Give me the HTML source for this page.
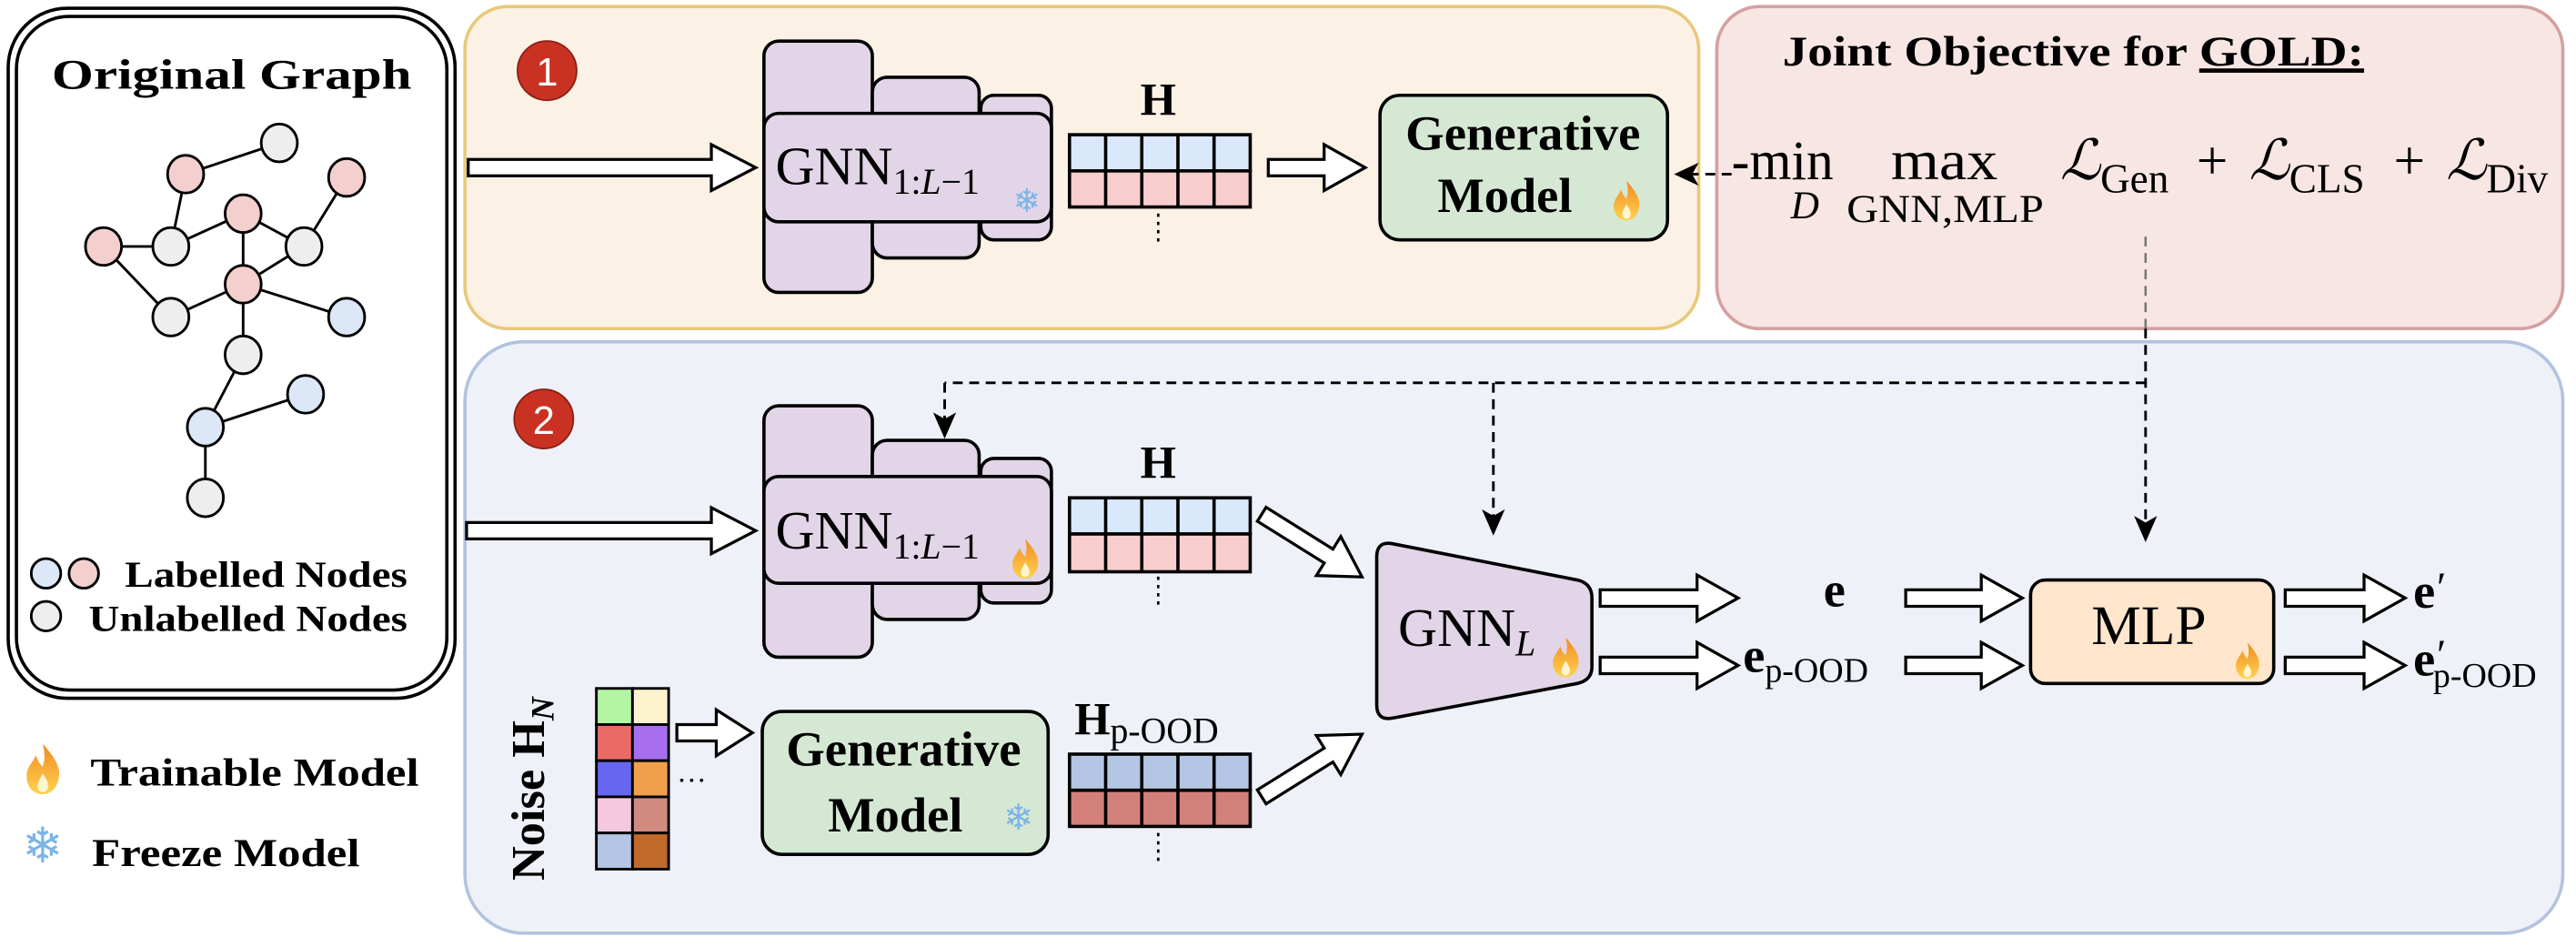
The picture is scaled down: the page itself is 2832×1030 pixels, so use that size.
<!DOCTYPE html>
<html><head><meta charset="utf-8"><style>
html,body{margin:0;padding:0;background:#fff;}
svg{display:block;}
text{font-family:"Liberation Serif","Times New Roman",serif;fill:#000;}
</style></head><body>
<svg width="2832" height="1030" viewBox="0 0 1568 570.3" preserveAspectRatio="none" xmlns="http://www.w3.org/2000/svg" font-family="Liberation Serif, serif">
<defs>
<linearGradient id="fl" x1="0" y1="1" x2="0" y2="0"><stop offset="0" stop-color="#ffd24d"/><stop offset="1" stop-color="#f08a24"/></linearGradient>
<g id="flame"><path d="M0,-11 C5,-5 8,-1 7,4 C6,9 3,11 0,11 C-4,11 -7,8 -7,3 C-7,-1 -4,-3 -3,-6 C-2,-3 -1,-2 0,-1 C1,-4 1,-7 0,-11Z" fill="url(#fl)"/><path d="M0,2 C2,5 3,7 2,9 C1,10.5 -1,10.5 -2,9 C-3,7 -1,4 0,2Z" fill="#fff6d0"/></g>
</defs>
<rect x="5" y="5" width="272" height="420" rx="36" fill="#fff" stroke="#000" stroke-width="2"/>
<rect x="10" y="10" width="262" height="410" rx="32" fill="#fff" stroke="#000" stroke-width="2"/>
<text x="141" y="54" font-size="26" font-weight="bold" text-anchor="middle" textLength="219" lengthAdjust="spacingAndGlyphs">Original Graph</text>
<g stroke="#000" stroke-width="1.6">
<line x1="113" y1="106" x2="170" y2="87"/><line x1="113" y1="106" x2="104" y2="150"/>
<line x1="104" y1="150" x2="63" y2="150"/><line x1="104" y1="150" x2="148" y2="130"/>
<line x1="148" y1="130" x2="185" y2="150"/><line x1="148" y1="130" x2="148" y2="173"/>
<line x1="185" y1="150" x2="211" y2="108"/><line x1="185" y1="150" x2="148" y2="173"/>
<line x1="63" y1="150" x2="104" y2="193"/><line x1="104" y1="193" x2="148" y2="173"/>
<line x1="148" y1="173" x2="211" y2="193"/><line x1="148" y1="173" x2="148" y2="216"/>
<line x1="148" y1="216" x2="125" y2="260"/><line x1="125" y1="260" x2="186" y2="240"/>
<line x1="125" y1="260" x2="125" y2="303"/>
</g>
<g stroke="#000" stroke-width="1.6">
<ellipse cx="170" cy="87" rx="11" ry="11.5" fill="#eeeeee"/>
<ellipse cx="113" cy="106" rx="11" ry="11.5" fill="#f3cfcd"/>
<ellipse cx="211" cy="108" rx="11" ry="11.5" fill="#f3cfcd"/>
<ellipse cx="148" cy="130" rx="11" ry="11.5" fill="#f3cfcd"/>
<ellipse cx="104" cy="150" rx="11" ry="11.5" fill="#eeeeee"/>
<ellipse cx="185" cy="150" rx="11" ry="11.5" fill="#eeeeee"/>
<ellipse cx="63" cy="150" rx="11" ry="11.5" fill="#f3cfcd"/>
<ellipse cx="148" cy="173" rx="11" ry="11.5" fill="#f3cfcd"/>
<ellipse cx="104" cy="193" rx="11" ry="11.5" fill="#eeeeee"/>
<ellipse cx="211" cy="193" rx="11" ry="11.5" fill="#dce8f8"/>
<ellipse cx="148" cy="216" rx="11" ry="11.5" fill="#eeeeee"/>
<ellipse cx="186" cy="240" rx="11" ry="11.5" fill="#dce8f8"/>
<ellipse cx="125" cy="260" rx="11" ry="11.5" fill="#dce8f8"/>
<ellipse cx="125" cy="303" rx="11" ry="11.5" fill="#eeeeee"/>
<ellipse cx="28" cy="349" rx="9" ry="9" fill="#dce8f8"/>
<ellipse cx="51" cy="349" rx="9" ry="9" fill="#f3cfcd"/>
<ellipse cx="28" cy="375" rx="9" ry="9" fill="#eeeeee"/>
</g>
<text x="76" y="357" font-size="22" font-weight="bold" textLength="172" lengthAdjust="spacingAndGlyphs">Labelled Nodes</text>
<text x="54" y="384" font-size="22" font-weight="bold" textLength="194" lengthAdjust="spacingAndGlyphs">Unlabelled Nodes</text>
<use href="#flame" transform="translate(26,468) scale(1.4)"/>
<text x="55" y="478" font-size="24" font-weight="bold" textLength="200" lengthAdjust="spacingAndGlyphs">Trainable Model</text>
<text x="26" y="525" font-size="30" text-anchor="middle" style="fill:#7ab4e8">❄</text>
<text x="56" y="527" font-size="24" font-weight="bold" textLength="163" lengthAdjust="spacingAndGlyphs">Freeze Model</text>

<rect x="283" y="4" width="751" height="196" rx="26" fill="#fcf1e5" stroke="#e8c97a" stroke-width="2"/>
<rect x="1045" y="4" width="515" height="196" rx="26" fill="#f7e6e4" stroke="#d4a0a0" stroke-width="2"/>
<rect x="283" y="208" width="1277" height="360" rx="36" fill="#eef1f8" stroke="#b3c3de" stroke-width="2"/>

<circle cx="333" cy="43" r="18" fill="#c93222" stroke="#8a1f14" stroke-width="1"/>
<text x="333" y="52" font-size="24" text-anchor="middle" style="fill:#fff;font-family:'Liberation Sans',sans-serif">1</text>
<circle cx="331" cy="255" r="18" fill="#c93222" stroke="#8a1f14" stroke-width="1"/>
<text x="331" y="264" font-size="24" text-anchor="middle" style="fill:#fff;font-family:'Liberation Sans',sans-serif">2</text>

<g stroke="#000" stroke-width="2" fill="#e1d5e7">
<rect x="465" y="25" width="66" height="153" rx="9"/>
<rect x="531" y="47" width="65" height="110" rx="9"/>
<rect x="597" y="58" width="43" height="88" rx="8"/>
<rect x="465" y="69" width="175" height="66" rx="9"/>
<rect x="465" y="247" width="66" height="153" rx="9"/>
<rect x="531" y="268" width="65" height="109" rx="9"/>
<rect x="597" y="279" width="43" height="88" rx="8"/>
<rect x="465" y="290" width="175" height="65" rx="9"/>
</g>
<text x="472" y="112" font-size="33">GNN<tspan font-size="22" dy="6">1:<tspan font-style="italic">L</tspan>−1</tspan></text>
<text x="625" y="129" font-size="20" text-anchor="middle" style="fill:#7ab4e8">❄</text>
<text x="472" y="334" font-size="33">GNN<tspan font-size="22" dy="6">1:<tspan font-style="italic">L</tspan>−1</tspan></text>
<use href="#flame" transform="translate(624,340) scale(1.1)"/>

<g stroke="#000" stroke-width="2">
<rect x="651" y="82" width="110" height="22" fill="#dae8fc"/><rect x="651" y="104" width="110" height="22" fill="#f8cecc"/>
<rect x="651" y="303" width="110" height="22" fill="#dae8fc"/><rect x="651" y="325" width="110" height="23" fill="#f8cecc"/>
<rect x="651" y="459" width="110" height="22" fill="#b4c6e4"/><rect x="651" y="481" width="110" height="22" fill="#d4807a"/>
<path d="M673,82V126M695,82V126M717,82V126M739,82V126M673,303V348M695,303V348M717,303V348M739,303V348M673,459V503M695,459V503M717,459V503M739,459V503" fill="none"/>
</g>
<g stroke="#000" stroke-width="1.5" stroke-dasharray="2 3"><line x1="705" y1="130" x2="705" y2="147"/><line x1="705" y1="351" x2="705" y2="368"/><line x1="705" y1="507" x2="705" y2="524"/></g>
<text x="705" y="70" font-size="28" font-weight="bold" text-anchor="middle">H</text>
<text x="705" y="291" font-size="28" font-weight="bold" text-anchor="middle">H</text>
<text x="654" y="447" font-size="28" font-weight="bold">H<tspan font-size="22" font-weight="normal" dy="5">p-OOD</tspan></text>

<text transform="translate(331,536) rotate(-90)" font-size="29" font-weight="bold">Noise H<tspan font-size="20" font-style="italic" dy="6">N</tspan></text>
<g stroke="#000" stroke-width="1.6">
<rect x="363" y="419" width="22" height="22" fill="#b3f5a3"/><rect x="385" y="419" width="22" height="22" fill="#fdf3cf"/>
<rect x="363" y="441" width="22" height="22" fill="#ea6b66"/><rect x="385" y="441" width="22" height="22" fill="#a86ef0"/>
<rect x="363" y="463" width="22" height="22" fill="#6666f0"/><rect x="385" y="463" width="22" height="22" fill="#f0a04a"/>
<rect x="363" y="485" width="22" height="22" fill="#f6c8e0"/><rect x="385" y="485" width="22" height="22" fill="#d08a80"/>
<rect x="363" y="507" width="22" height="22" fill="#b4c6e4"/><rect x="385" y="507" width="22" height="22" fill="#c0692a"/>
</g>
<text x="412" y="476" font-size="18">…</text>

<rect x="840" y="58" width="175" height="88" rx="12" fill="#d5e8d4" stroke="#000" stroke-width="2"/>
<text x="927" y="91" font-size="30" font-weight="bold" text-anchor="middle" textLength="143" lengthAdjust="spacingAndGlyphs">Generative</text>
<text x="916" y="129" font-size="30" font-weight="bold" text-anchor="middle" textLength="82" lengthAdjust="spacingAndGlyphs">Model</text>
<use href="#flame" transform="translate(990,122) scale(1.1)"/>
<rect x="464" y="433" width="174" height="87" rx="12" fill="#d5e8d4" stroke="#000" stroke-width="2"/>
<text x="550" y="466" font-size="30" font-weight="bold" text-anchor="middle" textLength="143" lengthAdjust="spacingAndGlyphs">Generative</text>
<text x="545" y="506" font-size="30" font-weight="bold" text-anchor="middle" textLength="82" lengthAdjust="spacingAndGlyphs">Model</text>
<text x="620" y="505" font-size="22" text-anchor="middle" style="fill:#7ab4e8">❄</text>

<path d="M848,331 L960,353 Q969,355 969,364 L969,406 Q969,414 960,416 L848,437 Q838,439 838,429 L838,339 Q838,329 848,331Z" fill="#e1d5e7" stroke="#000" stroke-width="2"/>
<text x="851" y="393" font-size="33">GNN<tspan font-size="22" font-style="italic" dy="6">L</tspan></text>
<use href="#flame" transform="translate(953,400) scale(1.1)"/>
<rect x="1236" y="353" width="148" height="63" rx="9" fill="#ffe6cc" stroke="#000" stroke-width="2"/>
<text x="1308" y="392" font-size="34" text-anchor="middle">MLP</text>
<use href="#flame" transform="translate(1368,402) scale(1.0)"/>

<text x="1110" y="369" font-size="30" font-weight="bold">e</text>
<text x="1061" y="409" font-size="30" font-weight="bold">e<tspan font-size="21" font-weight="normal" dy="6">p-OOD</tspan></text>
<text x="1469" y="370" font-size="30" font-weight="bold">e<tspan font-weight="normal" font-size="26" dx="1" dy="-4">′</tspan></text>
<text x="1469" y="411" font-size="30" font-weight="bold">e<tspan font-weight="normal" font-size="26" dx="1" dy="-4">′</tspan><tspan font-size="21" font-weight="normal" dx="-8" dy="11">p-OOD</tspan></text>

<g fill="#fff" stroke="#000" stroke-width="1.8" stroke-linejoin="miter">
<path d="M285,97 L433,97 L433,88 L460,102 L433,116 L433,107 L285,107Z"/>
<path d="M284,318 L433,318 L433,309 L460,323 L433,337 L433,328 L284,328Z"/>
<path d="M772,97 L806,97 L806,88 L831,102 L806,116 L806,107 L772,107Z"/>
<path d="M412,441 L436,441 L436,432 L458,446 L436,460 L436,451 L412,451Z"/>
<path d="M974,359 L1033,359 L1033,350 L1058,364 L1033,378 L1033,369 L974,369Z"/>
<path d="M974,400 L1033,400 L1033,391 L1058,405 L1033,419 L1033,410 L974,410Z"/>
<path d="M1160,359 L1206,359 L1206,350 L1231,364 L1206,378 L1206,369 L1160,369Z"/>
<path d="M1160,400 L1206,400 L1206,391 L1231,405 L1206,419 L1206,410 L1160,410Z"/>
<path d="M1391,359 L1439,359 L1439,350 L1464,364 L1439,378 L1439,369 L1391,369Z"/>
<path d="M1391,400 L1439,400 L1439,391 L1464,405 L1439,419 L1439,410 L1391,410Z"/>
<g transform="translate(768,313) rotate(32)"><path d="M0,-5 L48,-5 L48,-14 L72,0 L48,14 L48,5 L0,5Z"/></g>
<g transform="translate(768,485) rotate(-32)"><path d="M0,-5 L48,-5 L48,-14 L72,0 L48,14 L48,5 L0,5Z"/></g>
</g>

<g stroke="#000" stroke-width="1.6" stroke-dasharray="6 4" fill="none">
<line x1="1054" y1="106" x2="1030" y2="106"/>
<line x1="1306" y1="200" x2="1306" y2="318"/>
<line x1="1306" y1="233" x2="575" y2="233"/>
<line x1="575" y1="233" x2="575" y2="255"/>
<line x1="909" y1="233" x2="909" y2="314"/>
</g>
<line x1="1306" y1="144" x2="1306" y2="200" stroke="#777" stroke-width="1.4" stroke-dasharray="6 4"/>
<g fill="#000">
<path d="M1019,106 L1034,99 L1030,106 L1034,113Z"/>
<path d="M1306,330 L1299,314 L1306,318 L1313,314Z"/>
<path d="M575,267 L568,251 L575,255 L582,251Z"/>
<path d="M909,326 L902,310 L909,314 L916,310Z"/>
</g>

<text x="1085" y="40" font-size="26" font-weight="bold" textLength="354" lengthAdjust="spacingAndGlyphs">Joint Objective for <tspan text-decoration="underline">GOLD:</tspan></text>
<line x1="1365" y1="43" x2="1439" y2="43" stroke="#000" stroke-width="1.5"/>
<text x="1054" y="109" font-size="34" textLength="62" lengthAdjust="spacingAndGlyphs">-min</text>
<text x="1090" y="133" font-size="24" font-style="italic">D</text>
<text x="1151" y="109" font-size="34" textLength="65" lengthAdjust="spacingAndGlyphs">max</text>
<text x="1124" y="135" font-size="24" textLength="120" lengthAdjust="spacingAndGlyphs">GNN,MLP</text>
<text x="1254" y="109" font-size="34" font-style="italic">ℒ<tspan font-style="normal" font-size="25" dy="8">Gen</tspan></text>
<text x="1337" y="109" font-size="34">+</text>
<text x="1369" y="109" font-size="34" font-style="italic">ℒ<tspan font-style="normal" font-size="25" dy="8">CLS</tspan></text>
<text x="1457" y="109" font-size="34">+</text>
<text x="1489" y="109" font-size="34" font-style="italic">ℒ<tspan font-style="normal" font-size="25" dy="8">Div</tspan></text>
</svg>
</body></html>
